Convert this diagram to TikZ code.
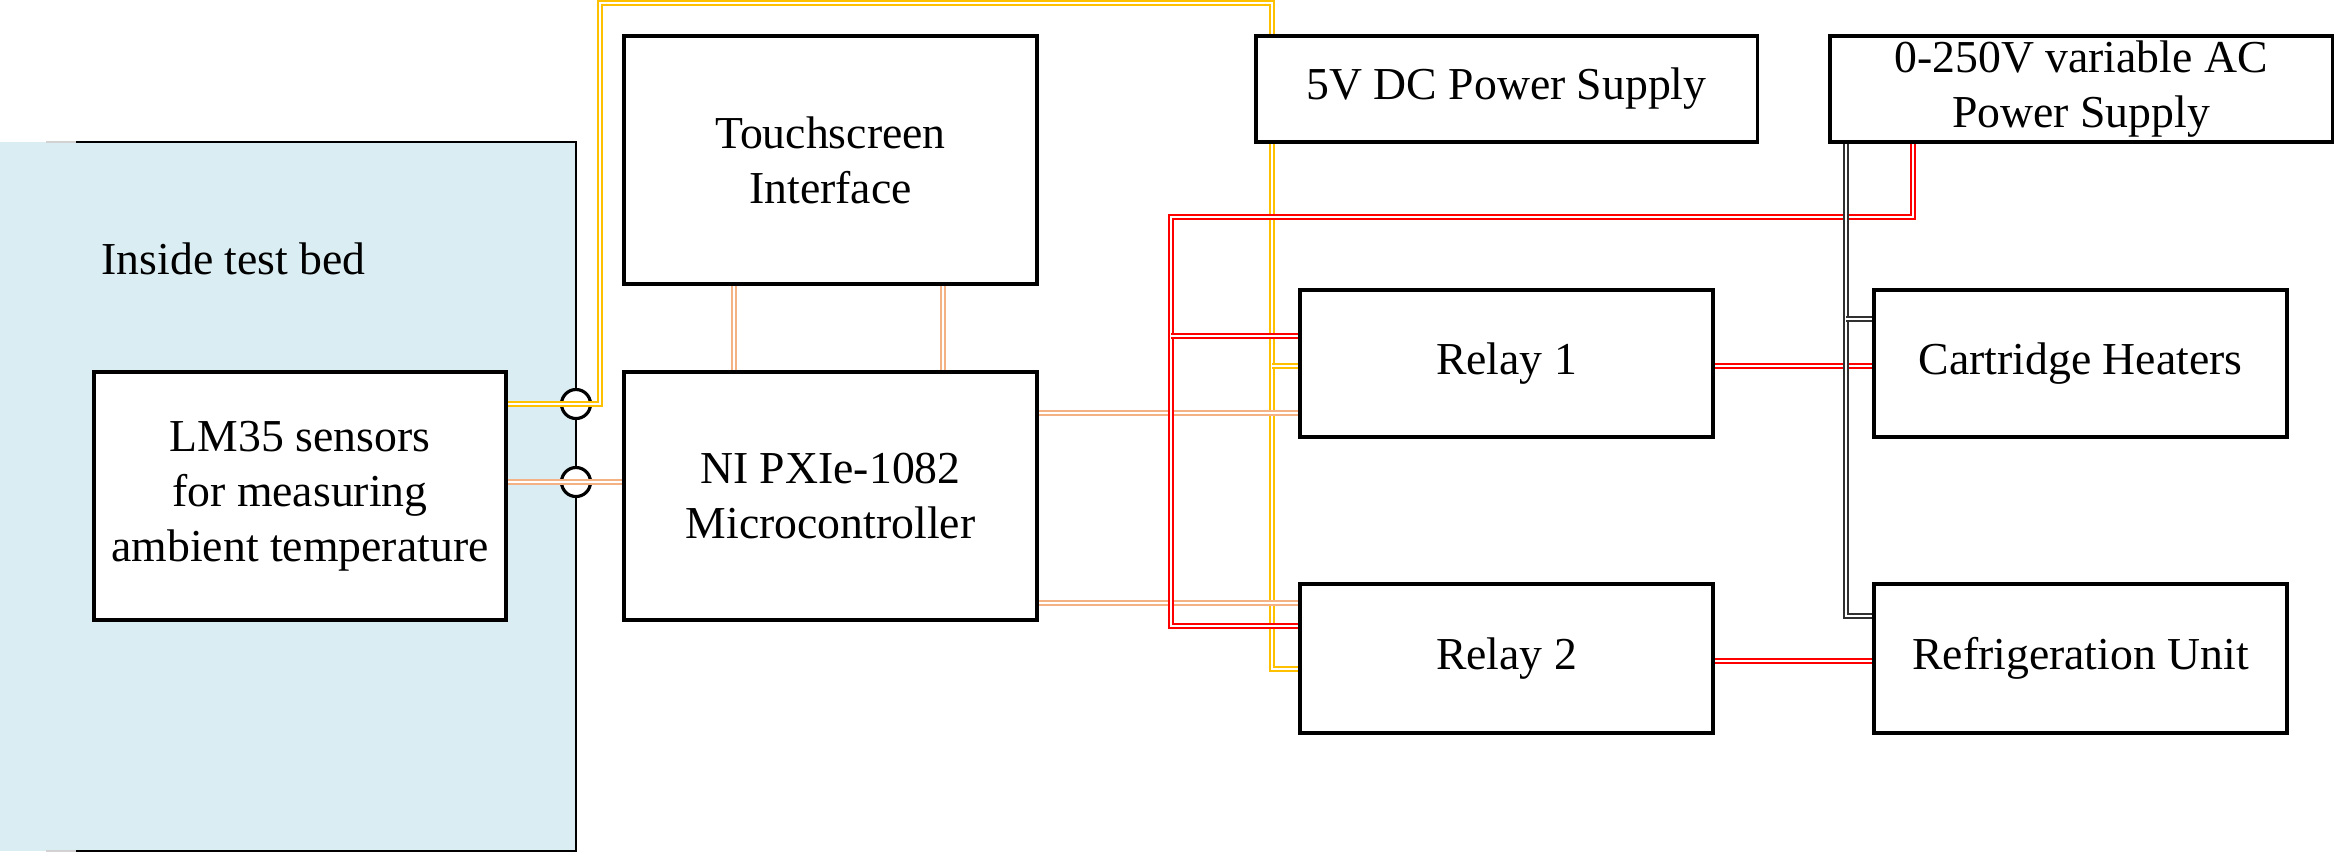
\documentclass[tikz,border=0pt]{standalone}
\usepackage{fontspec}
\setmainfont{Liberation Serif}
\pgfdeclarelayer{bg}
\pgfdeclarelayer{wires}
\pgfsetlayers{bg,wires,main}
\definecolor{bedblue}{HTML}{DAEDF3}
\definecolor{sigyellow}{HTML}{FFC000}
\definecolor{sigorange}{HTML}{F4B183}
\definecolor{acred}{HTML}{FF0000}
\definecolor{acgray}{HTML}{303030}
\begin{document}
\begin{tikzpicture}[x=0.01cm, y=-0.01cm,
  box/.style={draw, line width=0.95pt, fill=white, align=center, inner sep=0pt, font=\fontsize{13}{15.6}\selectfont},
  wire/.style={double=white, line width=0.5pt, double distance=0.45pt},
  port/.style={circle, draw, line width=0.9pt, fill=white, minimum size=0.29cm, inner sep=0pt}]
\useasboundingbox (0,0) rectangle (2334,853);

\node[box, minimum width=4.13cm, minimum height=2.48cm] (touch) at (830.5,160) {Touchscreen\\Interface};
\node[box, minimum width=4.13cm, minimum height=2.48cm] (ni) at (830.5,496) {NI PXIe-1082\\Microcontroller};
\node[box, minimum width=4.12cm, minimum height=2.48cm] (lm35) at (300,496) {LM35 sensors\\for measuring\\ambient temperature};
\node[box, minimum width=5.01cm, minimum height=1.06cm] (dc) at (1506.5,89) {5V DC Power Supply};
\node[box, minimum width=5.02cm, minimum height=1.06cm] (ac) at (2081,89) {0-250V variable AC\\Power Supply};
\node[box, minimum width=4.13cm, minimum height=1.47cm] (relay1) at (1506.5,363.5) {Relay 1};
\node[box, minimum width=4.13cm, minimum height=1.47cm] (heat) at (2080.5,363.5) {Cartridge Heaters};
\node[box, minimum width=4.13cm, minimum height=1.49cm] (relay2) at (1506.5,658.5) {Relay 2};
\node[box, minimum width=4.13cm, minimum height=1.49cm] (fridge) at (2080.5,658.5) {Refrigeration Unit};
\node[anchor=base west, inner sep=0pt, font=\fontsize{13}{15.6}\selectfont] (bed) at (101,274) {Inside test bed};

\coordinate (yjoin) at (1272,366);
\coordinate (rjoin) at (1171,336);
\coordinate (gjoin) at (1846,319);

\begin{pgfonlayer}{bg}
\fill[bedblue] (0,142) rectangle (576,851);
\draw[line width=0.8pt] (76,142) -- (576,142) -- (576,851) -- (76,851);
\draw[gray!35, line width=0.8pt] (46,142) -- (76,142) (46,851) -- (76,851);
\end{pgfonlayer}

\begin{pgfonlayer}{wires}
\node[port] (port1) at (576,404) {};
\node[port] (port2) at (576,482) {};
\draw[wire, sigyellow] (lm35.east |- port1) -| (600,3) -| (1272,669) -- (relay2.west |- 0,669);
\draw[wire, sigyellow] (yjoin) -- (relay1.west |- yjoin);
\draw[wire, sigorange] (lm35.east |- port2) -- (ni.west |- port2);
\draw[wire, sigorange] (touch.south -| 734,0) -- (ni.north -| 734,0);
\draw[wire, sigorange] (touch.south -| 943,0) -- (ni.north -| 943,0);
\draw[wire, sigorange] (ni.east |- 0,413) -- (relay1.west |- 0,413);
\draw[wire, sigorange] (ni.east |- 0,603) -- (relay2.west |- 0,603);
\draw[wire, acred] (ac.south -| 1913,0) |- (1171,217) |- (relay2.west |- 0,626);
\draw[wire, acred] (rjoin) -- (relay1.west |- rjoin);
\draw[wire, acred] (relay1.east |- 0,366) -- (heat.west |- 0,366);
\draw[wire, acred] (relay2.east |- 0,661) -- (fridge.west |- 0,661);
\draw[wire, acgray] (ac.south -| gjoin) |- (fridge.west |- 0,616);
\draw[wire, acgray] (gjoin) -- (heat.west |- gjoin);
\end{pgfonlayer}
\end{tikzpicture}
\end{document}
